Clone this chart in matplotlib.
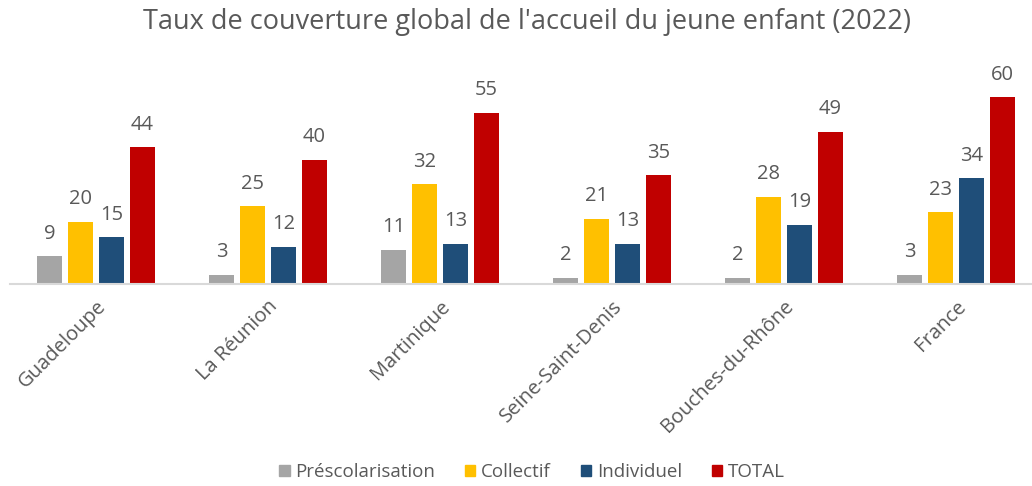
import numpy as np
import matplotlib
matplotlib.use("Agg")
import matplotlib.pyplot as plt
from matplotlib.patches import Patch

plt.rcParams['font.family'] = ['Open Sans', 'DejaVu Sans']

# données
territoires = ["Guadeloupe", "La Réunion", "Martinique", "Seine-Saint-Denis",
               "Bouches-du-Rhône", "France"]
prescolarisation = [9, 3, 11, 2, 2, 3]
collectif = [20, 25, 32, 21, 28, 23]
individuel = [15, 12, 13, 13, 19, 34]
total = [44, 40, 55, 35, 49, 60]

series = [("Préscolarisation", prescolarisation, "#A5A5A5"),
          ("Collectif", collectif, "#FFC000"),
          ("Individuel", individuel, "#1F4E79"),
          ("TOTAL", total, "#C00000")]

W, H = 1032, 486
fig = plt.figure(figsize=(W / 100, H / 100), dpi=100)
# zone de tracé (en pixels)
ax = fig.add_axes([10 / W, (H - 284) / H, 1032 / W, 224 / H])

x = np.arange(len(territoires))
step = 0.18
width = 0.15
txt_col = "#595959"

for k, (nom, vals, col) in enumerate(series):
    pos = x + (k - 1.5) * step
    bars = ax.bar(pos, vals, width, color=col, label=nom)
    for b, v in zip(bars, vals):
        ax.annotate(str(v), (b.get_x() + b.get_width() / 2, v),
                    xytext=(0, 9), textcoords="offset points",
                    ha="center", va="bottom", fontsize=14.5, color=txt_col)

ax.set_xlim(-0.5, len(territoires) - 0.5)
ax.set_ylim(0, 72)
ax.set_yticks([])
for s in ["top", "right", "left"]:
    ax.spines[s].set_visible(False)
ax.spines["bottom"].set_color("#D9D9D9")
ax.spines["bottom"].set_linewidth(1.5)
ax.set_xticks(x)
ax.set_xticklabels(territoires, rotation=45, ha="right", rotation_mode="anchor",
                   fontsize=14.5, color=txt_col)
ax.tick_params(axis="x", length=0, pad=9)

fig.text(527 / W, 1 - 22 / H, "Taux de couverture global de l'accueil du jeune enfant (2022)",
         ha="center", va="center", fontsize=19.5, color=txt_col)

handles = [Patch(color=c, label=n) for n, _, c in series]
fig.legend(handles=handles, loc="center", bbox_to_anchor=(532 / W, 1 - 472 / H),
           ncol=4, frameon=False, fontsize=13.5, handlelength=0.55, handleheight=0.55,
           handletextpad=0.3, columnspacing=1.6, labelcolor=txt_col)

fig.savefig("out.png", dpi=100)
